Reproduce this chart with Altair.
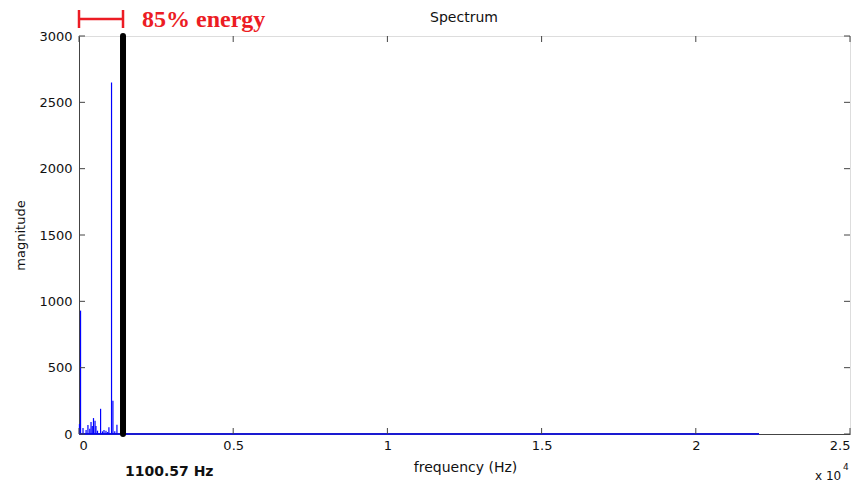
import altair as alt
import pandas as pd

# ---- data ----
spike_freq = [15, 50, 130, 230, 290, 350, 390, 430, 470, 520, 550, 600, 700, 760, 810, 875, 930, 970, 1055, 1100, 1160, 1230]
spike_mag = [75, 930, 45, 30, 68, 40, 90, 60, 120, 100, 60, 25, 190, 20, 30, 25, 15, 50, 2650, 250, 20, 70]
baseline_freq = [0, 22050]
cutoff_freq = 1427
x_ticks = [0, 5000, 10000, 15000, 20000, 25000]
y_ticks = [0, 500, 1000, 1500, 2000, 2500, 3000]

W, H = 771, 398
FONT = "DejaVu Sans"

spikes = pd.DataFrame({"f": spike_freq, "m": spike_mag, "z": 0})
base = pd.DataFrame({"f": baseline_freq, "m": [0, 0]})

xs = alt.Scale(domain=[0, 25000], nice=False, zero=False)
ys = alt.Scale(domain=[0, 3000], nice=False)

x_axis = alt.Axis(values=x_ticks, labelExpr="datum.value/10000", ticks=False, grid=False,
                  labelFont=FONT, labelFontSize=13, labelColor="#111", labelPadding=5,
                  domainColor="#444", title="frequency (Hz)", titleFont=FONT, titleFontSize=14,
                  titleFontWeight="normal", titleColor="#111", titleX=386, titleY=33,
                  titleBaseline="middle")
y_axis = alt.Axis(values=y_ticks, format="d", ticks=False, grid=False, labelFont=FONT,
                  labelFontSize=13, labelColor="#111", labelPadding=7, domainColor="#444",
                  title="magnitude", titleFont=FONT, titleFontSize=13, titleFontWeight="normal",
                  titleColor="#111", titleX=-59, titleY=199, titleBaseline="middle", titleAngle=270)

base_line = alt.Chart(base).mark_line(color="#1a1ad0", strokeWidth=2).encode(
    x=alt.X("f:Q", scale=xs, axis=x_axis),
    y=alt.Y("m:Q", scale=ys, axis=y_axis),
)

spike_rules = alt.Chart(spikes).mark_rule(color="#0000ff", strokeWidth=1.2).encode(
    x=alt.X("f:Q", scale=xs), y=alt.Y("m:Q", scale=ys), y2="z:Q"
)

cut = alt.Chart(pd.DataFrame({"f": [cutoff_freq], "a": [0], "b": [3000]})).mark_rule(
    color="black", strokeWidth=6, strokeCap="round").encode(
    x=alt.X("f:Q", scale=xs), y=alt.Y("a:Q", scale=ys), y2="b:Q")

# inward ticks (MATLAB style)
xt = pd.DataFrame({"f": x_ticks})
yt = pd.DataFrame({"m": y_ticks})
xt_bottom = alt.Chart(xt).mark_rule(color="#444").encode(
    x=alt.X("f:Q", scale=xs), y=alt.value(H), y2=alt.value(H - 6))
xt_top = alt.Chart(xt).mark_rule(color="#444").encode(
    x=alt.X("f:Q", scale=xs), y=alt.value(0), y2=alt.value(6))
yt_left = alt.Chart(yt).mark_rule(color="#444").encode(
    y=alt.Y("m:Q", scale=ys), x=alt.value(0), x2=alt.value(6))
yt_right = alt.Chart(yt).mark_rule(color="#444").encode(
    y=alt.Y("m:Q", scale=ys), x=alt.value(W), x2=alt.value(W - 6))

# red bracket showing the 85 % energy band
br = pd.DataFrame({"f": [0], "f2": [cutoff_freq]})
red = "#ec1c24"
br_h = alt.Chart(br).mark_rule(color=red, strokeWidth=2.5).encode(
    x=alt.X("f:Q", scale=xs), x2="f2:Q", y=alt.value(-17))
br_ends = alt.Chart(pd.DataFrame({"f": [0, cutoff_freq]})).mark_rule(color=red, strokeWidth=2.5).encode(
    x=alt.X("f:Q", scale=xs), y=alt.value(-26), y2=alt.value(-8))

def txt(s, x, y, size, color="#111", weight="normal", font=FONT, align="left", baseline="middle"):
    return alt.Chart(pd.DataFrame({"t": [s]})).mark_text(
        font=font, fontSize=size, fontWeight=weight, color=color, align=align,
        baseline=baseline).encode(text="t:N", x=alt.value(x), y=alt.value(y))

labels = [
    txt("85% energy", 63, -16, 24, color=red, weight="bold", font="Liberation Serif"),
    txt("Spectrum", 385, -18, 14, align="center"),
    txt("1100.57 Hz", 46, 436, 14, weight="bold"),
    txt("x 10", 736, 440, 12),
    txt("4", 764, 431, 9),
]

chart = alt.layer(base_line, spike_rules, cut, xt_bottom, xt_top, yt_left, yt_right,
                  br_h, br_ends, *labels).properties(
    width=W, height=H,
    autosize=alt.AutoSizeParams(type="none"),
    padding={"left": 79, "top": 36, "right": 15, "bottom": 51},
).configure_view(stroke="#444", strokeWidth=1).configure(background="white")

chart.save("out.html", embed_options={"renderer": "svg", "actions": False})
